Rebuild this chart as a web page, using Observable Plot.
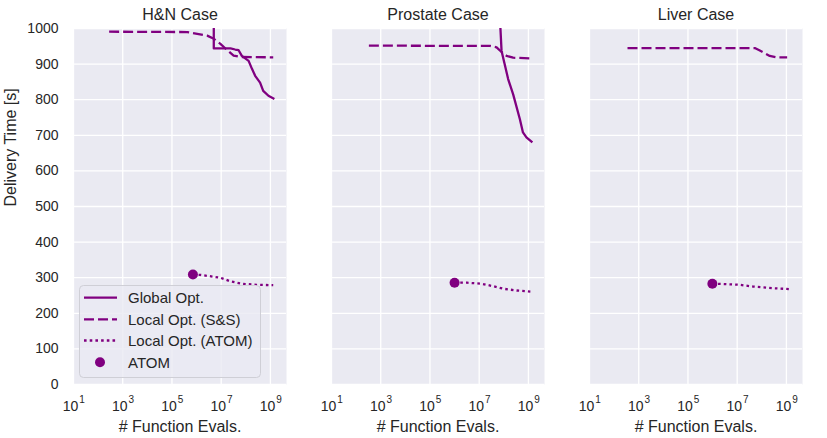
<!DOCTYPE html>
<html><head><meta charset="utf-8">
<script src="https://cdn.jsdelivr.net/npm/d3@7"></script>
<script src="https://cdn.jsdelivr.net/npm/@observablehq/plot@0.6"></script>
<style>body{margin:0;background:#fff;} svg{display:block}</style>
</head><body><div id="chart"></div>
<script>
// ---- data ----
const cases = ["H&N Case", "Prostate Case", "Liver Case"];

// Global optimisation (solid)
const hnGlobal = [[5.0e6,1100],[5.0e6,944],[2.4e7,944],[3.7e7,941],[5.1e7,939],[6.9e7,923],[1.3e8,909],[1.8e8,886],[2.4e8,867],[3.8e8,848],[5.1e8,825],[8.3e8,811],[1.45e9,802]];
const prGlobal = [[6.6e7,1060],[8.1e7,937],[1.05e8,904],[1.5e8,858],[2.4e8,815],[4.5e8,745],[6.0e8,708],[8.3e8,694],[1.45e9,680]];

// Local optimisation S&S (dashed)
const hnSS = [[2.8e2,991],[4.2e5,990],[2.7e6,980],[5.0e6,971],[9.3e6,957],[1.7e7,940],[3.2e7,924],[6.0e7,920],[1.3e9,919]];
const prSS = [[3.3e2,952],[4.3e6,951],[2.8e7,951],[5.1e7,947],[8.1e7,934],[1.3e8,923],[2.4e8,918],[1.3e9,916]];
const lvSS = [[3.5e2,945],[5.2e7,945],[8.3e7,938],[1.3e8,931],[2.1e8,923],[3.9e8,919],[1.07e9,919]];

// Local optimisation ATOM (dotted)
const hnAtomLocal = [[7.1e5,309],[1.4e6,308],[9.3e6,300],[2.3e7,290],[6.9e7,283],[2.8e8,280],[1.3e9,279]];
const prAtomLocal = [[1.0e6,286],[3.2e6,286],[1.26e7,283],[3.7e7,276],[9.5e7,269],[3.3e8,264],[1.2e9,261]];
const lvAtomLocal = [[9.8e5,283],[1.5e6,283],[1.3e7,280],[4.5e7,275],[2.8e8,270.5],[1.3e9,268]];

// ATOM result (dots)
const atomX = [7.1e5, 1.0e6, 9.8e5];
const atomY = [309, 286, 283];

const xTicks = [1e1, 1e3, 1e5, 1e7, 1e9];
const xTickExps = ["1", "3", "5", "7", "9"];
const yTicks = [0,100,200,300,400,500,600,700,800,900,1000];
const legendItems = ["Global Opt.", "Local Opt. (S&S)", "Local Opt. (ATOM)", "ATOM"];

// ---- build tables ----
const toRows = (c, pts) => pts.map(([x, y]) => ({case: c, x, y}));
const globalRows = [...toRows(cases[0], hnGlobal), ...toRows(cases[1], prGlobal)];
const ssRows = [...toRows(cases[0], hnSS), ...toRows(cases[1], prSS), ...toRows(cases[2], lvSS)];
const atomLocalRows = [...toRows(cases[0], hnAtomLocal), ...toRows(cases[1], prAtomLocal), ...toRows(cases[2], lvAtomLocal)];
const atomRows = cases.map((c, i) => ({case: c, x: atomX[i], y: atomY[i]}));

const purple = "#800080";
const ink = "#262626";
const font = "'Liberation Sans', Arial, sans-serif";
const dashSS = "10,4";
const dashAtom = "2.6,3.1";

const chart = Plot.plot({
  width: 827, height: 438,
  marginLeft: 72, marginRight: 24, marginTop: 28, marginBottom: 54,
  style: {fontFamily: font, color: ink, background: "white"},
  fx: {domain: cases, paddingInner: 0.174, paddingOuter: 0, label: null},
  x: {type: "log", domain: [10, 4.5e9], axis: null},
  y: {domain: [0, 1000], axis: null},
  marks: [
    Plot.frame({fill: "#eaeaf2", stroke: "none"}),
    Plot.gridY({ticks: yTicks, stroke: "white", strokeOpacity: 1, strokeWidth: 1.3}),
    Plot.gridX({ticks: xTicks, stroke: "white", strokeOpacity: 1, strokeWidth: 1.3}),
    Plot.line(ssRows, {x: "x", y: "y", fx: "case", z: "case", stroke: purple, strokeWidth: 2.3, strokeDasharray: dashSS, strokeLinecap: "butt", strokeLinejoin: "round", clip: true}),
    Plot.line(atomLocalRows, {x: "x", y: "y", fx: "case", z: "case", stroke: purple, strokeWidth: 2.3, strokeDasharray: dashAtom, strokeLinecap: "butt", strokeLinejoin: "round", clip: true}),
    Plot.line(globalRows, {x: "x", y: "y", fx: "case", z: "case", stroke: purple, strokeWidth: 2.3, strokeLinecap: "butt", clip: true}),
    Plot.dot(atomRows, {x: "x", y: "y", fx: "case", r: 5, fill: purple, stroke: "none"}),
    Plot.axisFx({anchor: "top", tickSize: 0, tickPadding: 8.5, fontSize: 16, label: null, fill: ink}),
    Plot.axisY({ticks: yTicks, tickFormat: d => String(d), tickSize: 0, tickPadding: 15, fontSize: 14, label: null, fill: ink}),
    Plot.text(xTicks, {x: d => d, text: () => "10", frameAnchor: "bottom", dy: 26, dx: -3, fontSize: 14, fill: ink}),
    Plot.text(xTicks, {x: d => d, text: (d, i) => xTickExps[i], frameAnchor: "bottom", dy: 18, dx: 8.5, fontSize: 10, fill: ink}),
    Plot.text(["# Function Evals."], {text: d => d, frameAnchor: "bottom", dy: 47, fontSize: 16, fill: ink}),
    Plot.text([{case: cases[0], t: "Delivery Time [s]"}], {fx: "case", text: "t", frameAnchor: "left", rotate: -90, dx: -63, fontSize: 16, fill: ink})
  ]
});

// ---- legend inside first panel ----
const svg = d3.select(chart);
const lg = svg.append("g").attr("font-family", font).attr("text-anchor", "start");
lg.append("rect").attr("x", 79.5).attr("y", 285.5).attr("width", 181).attr("height", 92).attr("rx", 4)
  .attr("fill", "#eaeaf2").attr("fill-opacity", 0.8).attr("stroke", "#cfcfd6").attr("stroke-width", 1);
const rowY = [297.7, 319.3, 340.5, 362.3];
legendItems.forEach((label, i) => {
  const y = rowY[i];
  if (i < 3) {
    lg.append("line").attr("x1", 84).attr("x2", 117).attr("y1", y).attr("y2", y)
      .attr("stroke", purple).attr("stroke-width", 2.3)
      .attr("stroke-dasharray", i === 0 ? null : (i === 1 ? dashSS : dashAtom));
  } else {
    lg.append("circle").attr("cx", 100).attr("cy", y).attr("r", 5).attr("fill", purple);
  }
  lg.append("text").attr("x", 128).attr("y", y).attr("dy", "0.35em").attr("font-size", 15)
    .attr("fill", ink).attr("text-anchor", "start").text(label);
});

document.getElementById("chart").appendChild(chart);
</script>
</body></html>
